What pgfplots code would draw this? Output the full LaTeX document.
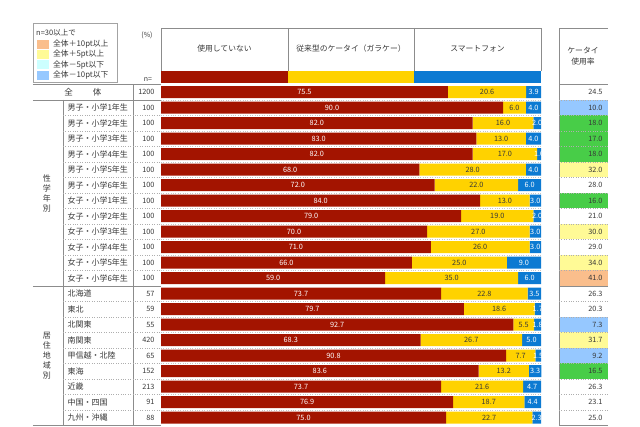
\documentclass[border=0pt]{standalone}
\usepackage{pgfplots}
\pgfplotsset{compat=1.18}
\usepackage{pgfplotstable}
\usepackage{fontspec}
\setmainfont{Noto Sans CJK JP}
\newcommand\fs[1]{\fontsize{#1}{#1}\selectfont}
\definecolor{cred}{RGB}{163,20,0}
\definecolor{cyel}{RGB}{255,210,0}
\definecolor{cblu}{RGB}{12,122,210}
\definecolor{cnone}{RGB}{255,255,255}
\definecolor{cblue}{RGB}{150,200,255}
\definecolor{cgreen}{RGB}{72,205,72}
\definecolor{cyellow}{RGB}{255,250,150}
\definecolor{corange}{RGB}{250,190,140}
\definecolor{lcyan}{RGB}{204,255,255}
\definecolor{txt}{RGB}{55,55,55}
\definecolor{grid}{RGB}{140,140,140}

\pgfplotstableread[col sep=comma]{
y,label,n,a,b,c,rate,rc
0,全体,1200,75.5,20.6,3.9,24.5,cnone
-1,男子・小学1年生,100,90.0,6.0,4.0,10.0,cblue
-2,男子・小学2年生,100,82.0,16.0,2.0,18.0,cgreen
-3,男子・小学3年生,100,83.0,13.0,4.0,17.0,cgreen
-4,男子・小学4年生,100,82.0,17.0,1.0,18.0,cgreen
-5,男子・小学5年生,100,68.0,28.0,4.0,32.0,cyellow
-6,男子・小学6年生,100,72.0,22.0,6.0,28.0,cnone
-7,女子・小学1年生,100,84.0,13.0,3.0,16.0,cgreen
-8,女子・小学2年生,100,79.0,19.0,2.0,21.0,cnone
-9,女子・小学3年生,100,70.0,27.0,3.0,30.0,cyellow
-10,女子・小学4年生,100,71.0,26.0,3.0,29.0,cnone
-11,女子・小学5年生,100,66.0,25.0,9.0,34.0,cyellow
-12,女子・小学6年生,100,59.0,35.0,6.0,41.0,corange
-13,北海道,57,73.7,22.8,3.5,26.3,cnone
-14,東北,59,79.7,18.6,1.7,20.3,cnone
-15,北関東,55,92.7,5.5,1.8,7.3,cblue
-16,南関東,420,68.3,26.7,5.0,31.7,cyellow
-17,甲信越・北陸,65,90.8,7.7,1.5,9.2,cblue
-18,東海,152,83.6,13.2,3.3,16.5,cgreen
-19,近畿,213,73.7,21.6,4.7,26.3,cnone
-20,中国・四国,91,76.9,18.7,4.4,23.1,cnone
-21,九州・沖縄,88,75.0,22.7,2.3,25.0,cnone
}\data

\begin{document}
\begin{tikzpicture}
\begin{axis}[
  at={(0,0)}, anchor=south west,
  scale only axis, width=380pt, height=341pt,
  xmin=0, xmax=100, ymin=-21.5, ymax=0.5,
  hide axis, clip=false,
  xbar stacked, bar width=12pt,
]
\addplot[fill=cred, draw=none] table[x=a, y=y]{\data};
\addplot[fill=cyel, draw=none] table[x=b, y=y]{\data};
\addplot[fill=cblu, draw=none] table[x=c, y=y]{\data};
\end{axis}

\begin{scope}[x=1pt, y=-1pt, shift={(-161pt,425.25pt)}]
\path (0,0) rectangle (640,426);
% legend
\draw[grid!80, line width=0.6pt] (33,23) rectangle (117,82);
\node[anchor=west, font=\fs{7.5}, text=txt, inner sep=0] at (36,33) {n=30以上で};
\fill[corange] (37,40) rectangle (49,49);
\fill[cyellow] (37,50) rectangle (49,59);
\fill[lcyan] (37,60.5) rectangle (49,69.5);
\fill[cblue] (37,71) rectangle (49,80);
\node[anchor=west, font=\fs{7.8}, text=txt, inner sep=0] at (53,44.5) {全体＋10pt以上};
\node[anchor=west, font=\fs{7.8}, text=txt, inner sep=0] at (53,54.5) {全体＋5pt以上};
\node[anchor=west, font=\fs{7.8}, text=txt, inner sep=0] at (53,65) {全体－5pt以下};
\node[anchor=west, font=\fs{7.8}, text=txt, inner sep=0] at (53,75.5) {全体－10pt以下};
% (%) and n=
\node[font=\fs{7}, text=txt] at (147,35) {(\%)};
\node[font=\fs{7}, text=txt] at (148,80) {n=};
% header
\draw[grid] (161,71) -- (161,28) -- (541,28) -- (541,71);
\draw[grid] (288,28) -- (288,71);
\draw[grid] (414,28) -- (414,71);
\fill[cred] (161,71) rectangle (288,83);
\fill[cyel] (288,71) rectangle (414,83);
\fill[cblu] (414,71) rectangle (541,83);
\node[font=\fs{7.8}, text=txt] at (224.5,49) {使用していない};
\node[font=\fs{7.8}, text=txt] at (351,49) {従来型のケータイ（ガラケー）};
\node[font=\fs{7.8}, text=txt] at (477.5,49) {スマートフォン};
\node[font=\fontsize{7.8}{11}\selectfont, text=txt, align=center] at (583,56) {ケータイ\\使用率};
% rate cell fills
\foreach \i in {0,...,21}{
  \pgfplotstablegetelem{\i}{rc}\of\data \let\vrc\pgfplotsretval
  \pgfmathsetmacro\yt{92+15.5*\i-7.75}
  \pgfmathsetmacro\yb{92+15.5*\i+7.75}
  \fill[\vrc] (559.5,\yt) rectangle (608,\yb);
}
% table lines
\draw[grid] (559,426) -- (559,28) -- (608,28);
\draw[grid] (559,84.25) -- (608,84.25);
\draw[grid] (33,84.25) -- (161,84.25);
\draw[grid] (33,99.75) -- (161,99.75);
\draw[grid] (33,285.75) -- (161,285.75);
\draw[grid] (559,285.75) -- (608,285.75);
\draw[grid] (33,425.5) -- (161,425.5);
\draw[grid] (559,425.5) -- (608,425.5);
\draw[grid] (63,99.75) -- (63,425.5);
\draw[grid] (133,84.25) -- (133,425.5);
\foreach \i in {0,...,20}{
  \ifnum\i=12\else
  \pgfmathsetmacro\yy{92+15.5*\i+7.75}
  \ifnum\i>0 \draw[grid!70, dotted] (63,\yy) -- (161,\yy);\fi
  \draw[grid!50, dotted] (161,\yy) -- (541,\yy);
  \draw[grid!70, dotted] (559,\yy) -- (608,\yy);
  \fi
}
% group labels
\node[font=\fontsize{8}{10}\selectfont, text=txt, align=center] at (47,193.5) {性\\学\\年\\別};
\node[font=\fontsize{8}{10}\selectfont, text=txt, align=center] at (47,356) {居\\住\\地\\域\\別};
\node[font=\fs{8.5}, text=txt] at (83,92) {全\hspace{20pt}体};
% row texts
\foreach \i in {0,...,21}{
  \pgfplotstablegetelem{\i}{a}\of\data \let\va\pgfplotsretval
  \pgfplotstablegetelem{\i}{b}\of\data \let\vb\pgfplotsretval
  \pgfplotstablegetelem{\i}{c}\of\data \let\vc\pgfplotsretval
  \pgfplotstablegetelem{\i}{n}\of\data \let\vn\pgfplotsretval
  \pgfplotstablegetelem{\i}{rate}\of\data \let\vr\pgfplotsretval
  \pgfplotstablegetelem{\i}{label}\of\data \let\vl\pgfplotsretval
  \pgfmathsetmacro\py{92+15.5*\i}
  \pgfmathsetmacro\xa{161+1.9*\va}
  \pgfmathsetmacro\xb{161+3.8*(\va+\vb/2)}
  \pgfmathsetmacro\xc{161+3.8*(\va+\vb+\vc/2)}
  \pgfmathsetmacro\yt{\py-8}
  \pgfmathsetmacro\yb{\py+8}
  \node[font=\fs{7.3}, text=white] at (\xa,\py) {\va};
  \node[font=\fs{7.3}, text=txt] at (\xb,\py) {\vb};
  \begin{scope}
  \clip (161,\yt) rectangle (541,\yb);
  \node[font=\fs{7.3}, text=white] at (\xc,\py) {\vc};
  \end{scope}
  \node[font=\fs{7.3}, text=txt, anchor=east] at (158,\py) {\vn};
  \node[font=\fs{7.3}, text=txt, anchor=east] at (606,\py) {\vr};
  \ifnum\i>0 \node[font=\fs{8}, text=txt, anchor=west] at (64,\py) {\vl};\fi
}
\end{scope}
\end{tikzpicture}
\end{document}
